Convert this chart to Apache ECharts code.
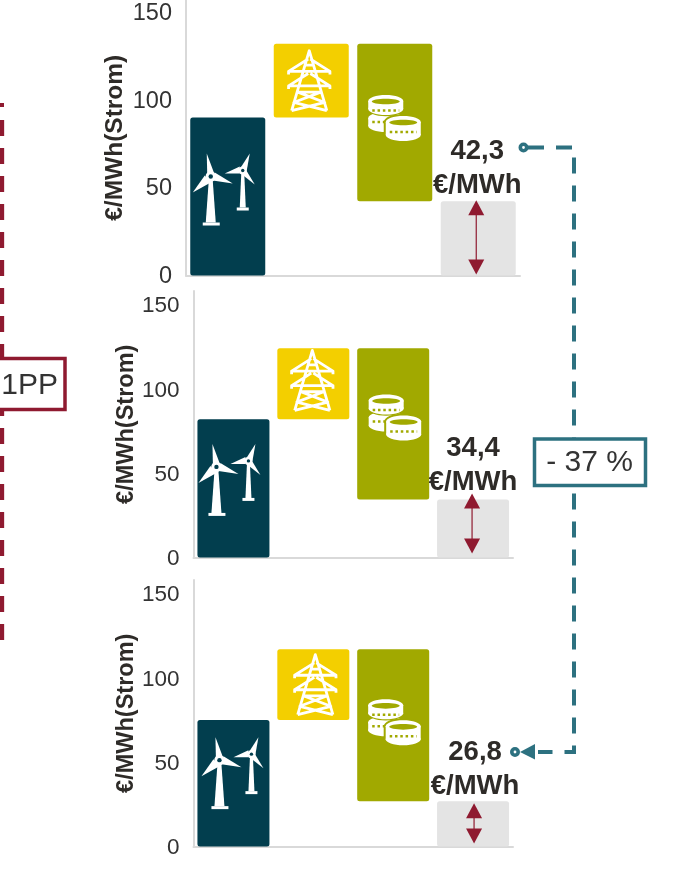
<!DOCTYPE html>
<html><head><meta charset="utf-8">
<style>html,body{margin:0;padding:0;background:#fff}#c{width:679px;height:882px}</style>
<script src="https://cdn.jsdelivr.net/npm/echarts@6/dist/echarts.min.js"></script>
</head><body><div id="c"></div>
<script>
const categories = ['Windkraft', 'Netz', 'Kosten', 'Marge'];
const yTicks = [0, 50, 100, 150];
const axisName = '€/MWh(Strom)';
const unit = '€/MWh';
// invisible lift below each floating bar
const base1 = [0, 90, 42.3, 0];
const base2 = [0, 82, 34.4, 0];
const base3 = [0, 75, 26.8, 0];
// visible height of each bar
const height1 = [90, 42, 89.7, 42.3];
const height2 = [82, 42, 89.6, 34.4];
const height3 = [75, 42, 90.2, 26.8];
const barColors = ['#023e4e', '#f3cf00', '#a1a900', '#e4e4e4'];
const changeLabel = '- 37 %';
const sideLabel = '1PP';

const FONT = '"Liberation Sans", Arial, sans-serif';
const RED = '#8f1a30', TEAL = '#2d7180', INK = '#2e2b28';

const panels = [
  {base: base1, h: height1, left: 186, right: 159, top: 0, bottom: 882 - 275.5, max: 157, tick: 23.5, pad: 2, name: 24.5, nameGap: 58, bw: 75, lab: [-1, 4], ax: -2, at: -1, ab: -1, iconY: [49, 111, 89.2], dx: [-4, -2, 0]},
  {base: base2, h: height2, left: 193.5, right: 166, top: 291, bottom: 882 - 557.5, max: 158, tick: 22.5, pad: 3, name: 23.5, nameGap: 54, bw: 72, lab: [0, 3], ax: -1, at: -6, ab: -4, iconY: [46, 105, 82.4], dx: [-4, -1, 2]},
  {base: base3, h: height3, left: 193.5, right: 166, top: 580, bottom: 882 - 846.5, max: 158, tick: 22.5, pad: 3, name: 23.5, nameGap: 54, bw: 72, lab: [2, 5.5], ax: 1, at: 2, ab: -3, iconY: [43.5, 96, 73], dx: [-1, 2, 1.5]}
];

function poly(points, fill) { return {type: 'polygon', shape: {points}, style: {fill}}; }
function circle(cx, cy, r, fill) { return {type: 'circle', shape: {cx, cy, r}, style: {fill}}; }

function turbineParts(bg) {
  const w = '#fff';
  return [
    poly([[-15, -9], [-11, -9], [-8, 33], [-18, 33]], w),
    poly([[-21, 33], [-4, 33], [-4, 36], [-21, 36]], w),
    poly([[-17, -36], [-9.5, -16], [-16.5, -14]], w),
    poly([[9, -6], [-9, -17], [-11, -9]], w),
    poly([[-31, 3], [-19, -14], [-13, -7]], w),
    circle(-13, -13, 5.2, w), circle(-13, -13, 2.2, bg),
    poly([[17.5, -16], [20.5, -16], [22, 18], [16, 18]], w),
    poly([[13, 18], [25, 18], [25, 21], [13, 21]], w),
    poly([[26, -36], [23, -19], [17, -22]], w),
    poly([[1, -16], [16, -23], [16, -16]], w),
    poly([[31, -5], [17, -16], [22, -20]], w),
    circle(19, -19, 4, w), circle(19, -19, 1.7, bg)
  ];
}
function pylonParts() {
  const lines = 'M-17 29L0 -29L17 29' +
    'M-20 -6V-9H20V-6M-20 -9L-1 -21M20 -9L1 -21M-5 -15H5' +
    'M-20 8V5H20V8M-20 5L-1 -7M20 5L1 -7' +
    'M-11 11H11M-11 11L15 21L-17 29M11 11L-15 21L17 29';
  return [{type: 'path', shape: {pathData: lines, x: -21, y: -30, width: 42, height: 60, layout: 'center'},
    style: {fill: 'none', stroke: '#fff', lineWidth: 2.8, lineJoin: 'round'}}];
}
function coin(cx, top, rx, bottom, fill, grow) {
  return [
    {type: 'ellipse', shape: {cx, cy: top + 6, rx: rx + grow, ry: 6 + grow}, style: {fill}},
    {type: 'rect', shape: {x: cx - rx - grow, y: top + 6, width: 2 * (rx + grow), height: bottom - top - 12}, style: {fill}},
    {type: 'ellipse', shape: {cx, cy: bottom - 6, rx: rx + grow, ry: 6 + grow}, style: {fill}}
  ];
}
function dots(cx, y, rx, bg) {
  return {type: 'line', shape: {x1: cx - rx + 4, y1: y, x2: cx + rx - 4, y2: y}, style: {stroke: bg, lineWidth: 2.5, lineDash: [2.5, 2.8]}};
}
function hole(cx, cy, rx, bg) {
  return {type: 'ellipse', shape: {cx, cy, rx, ry: 2.8}, style: {fill: bg}};
}
function coinParts(bg) {
  return [
    ...coin(-9, -7, 17.5, 13, '#fff', 0),
    dots(-9, 3, 17.5, bg),
    ...coin(-9, -24, 17.5, -4, bg, 1.2),
    ...coin(-9, -24, 17.5, -4, '#fff', 0),
    hole(-9, -17.5, 14, bg),
    dots(-9, -8.5, 17.5, bg),
    ...coin(8.5, -3, 17.5, 22, bg, 2),
    ...coin(8.5, -3, 17.5, 22, '#fff', 0),
    hole(8.5, 3.5, 14, bg),
    dots(8.5, 13, 17.5, bg)
  ];
}
function iconSeries(i, p) {
  return {
    type: 'custom', xAxisIndex: i, yAxisIndex: i, silent: true, z: 5,
    data: [[0, p.iconY[0]], [1, p.iconY[1]], [2, p.iconY[2]]],
    renderItem(params, api) {
      const idx = params.dataIndex;
      const c = api.coord([api.value(0), api.value(1)]);
      const children = idx === 0 ? turbineParts(barColors[0]) : idx === 1 ? pylonParts() : coinParts(barColors[2]);
      return {type: 'group', x: c[0] + p.dx[idx], y: c[1], children};
    }
  };
}
function arrowSeries(i, p) {
  const v = p.h[3];
  return {
    type: 'custom', xAxisIndex: i, yAxisIndex: i, silent: true, z: 5,
    data: [[3, 0, v]],
    renderItem(params, api) {
      const lo = api.coord([api.value(0), api.value(1)]);
      const hi = api.coord([api.value(0), api.value(2)]);
      const x = lo[0] + p.ax, y1 = hi[1] + p.at, y2 = lo[1] + p.ab;
      return {type: 'group', children: [
        {type: 'line', shape: {x1: x, y1: y1 + 5, x2: x, y2: y2 - 5}, style: {stroke: RED, lineWidth: 1.2}},
        poly([[x, y1], [x + 8, y1 + 15], [x - 8, y1 + 15]], RED),
        poly([[x, y2], [x + 8, y2 - 15], [x - 8, y2 - 15]], RED)
      ]};
    }
  };
}

const grid = [], xAxis = [], yAxis = [], series = [];
panels.forEach((p, i) => {
  grid.push({left: p.left, right: p.right, top: p.top, bottom: p.bottom, containLabel: false});
  xAxis.push({type: 'category', gridIndex: i, data: categories, axisLabel: {show: false}, axisTick: {show: false},
    axisLine: {show: true, lineStyle: {color: '#d9d9d9', width: 2}}});
  yAxis.push({type: 'value', gridIndex: i, min: yTicks[0], max: p.max, interval: yTicks[1] - yTicks[0],
    name: axisName, nameLocation: 'middle', nameRotate: 90, nameGap: p.nameGap,
    nameTextStyle: {fontFamily: FONT, fontWeight: 'bold', fontSize: p.name, color: INK},
    splitLine: {show: false}, axisTick: {show: false},
    axisLine: {show: true, lineStyle: {color: '#d9d9d9', width: 2}},
    axisLabel: {showMaxLabel: false, margin: 14, fontFamily: FONT, color: '#333',
      formatter: v => '{t|' + v + '}',
      rich: {t: {fontFamily: FONT, fontSize: p.tick, color: '#333', padding: [p.pad, 0, 0, 0]}}}});
  series.push({type: 'bar', xAxisIndex: i, yAxisIndex: i, stack: 'p' + i, barWidth: p.bw, silent: true,
    itemStyle: {color: 'transparent'}, data: p.base});
  series.push({type: 'bar', xAxisIndex: i, yAxisIndex: i, stack: 'p' + i, barWidth: p.bw, silent: true,
    data: p.h.map((v, k) => ({value: v, itemStyle: {color: barColors[k], borderRadius: 2.5}})),
    label: {show: true, position: 'top', distance: 3, offset: p.lab, color: INK, fontFamily: FONT, fontWeight: 'bold',
      fontSize: 27.5, lineHeight: 34, align: 'center',
      formatter: d => d.dataIndex === 3 ? d.value.toFixed(1).replace('.', ',') + '\n' + unit : ''}});
  series.push(iconSeries(i, p));
  series.push(arrowSeries(i, p));
});

const graphic = [
  {type: 'line', z: 10, shape: {x1: 0, y1: 105, x2: 4, y2: 105}, style: {stroke: RED, lineWidth: 4}},
  {type: 'line', z: 10, shape: {x1: 2, y1: 120, x2: 2, y2: 641}, style: {stroke: RED, lineWidth: 4.3, lineDash: [16, 12]}},
  {type: 'rect', z: 11, shape: {x: -8, y: 358.5, width: 73, height: 51}, style: {fill: '#fff', stroke: RED, lineWidth: 3.5}},
  {type: 'text', z: 12, style: {text: sideLabel, x: 58, y: 385.5, align: 'right', verticalAlign: 'middle', fontFamily: FONT, fontSize: 30, fill: '#333'}},
  {type: 'polyline', z: 10, shape: {points: [[528, 147.5], [574, 147.5], [574, 752], [538, 752]]}, style: {fill: 'none', stroke: TEAL, lineWidth: 4, lineDash: [16, 12]}},
  {type: 'circle', z: 11, shape: {cx: 523.5, cy: 147.5, r: 3.2}, style: {fill: '#fff', stroke: TEAL, lineWidth: 3.6}},
  {type: 'polygon', z: 11, shape: {points: [[520, 752], [535, 744], [535, 759.5]]}, style: {fill: TEAL}},
  {type: 'circle', z: 11, shape: {cx: 515, cy: 752, r: 3.2}, style: {fill: '#fff', stroke: TEAL, lineWidth: 3.6}},
  {type: 'rect', z: 11, shape: {x: 534.5, y: 439, width: 111, height: 46.5}, style: {fill: '#fff', stroke: TEAL, lineWidth: 3.5}},
  {type: 'text', z: 12, style: {text: changeLabel, x: 589.5, y: 463, align: 'center', verticalAlign: 'middle', fontFamily: FONT, fontSize: 30, fill: '#333'}}
];

const chart = echarts.init(document.getElementById('c'), null, {renderer: 'canvas'});
chart.setOption({animation: false, backgroundColor: '#fff', grid, xAxis, yAxis, series, graphic});
</script></body></html>
